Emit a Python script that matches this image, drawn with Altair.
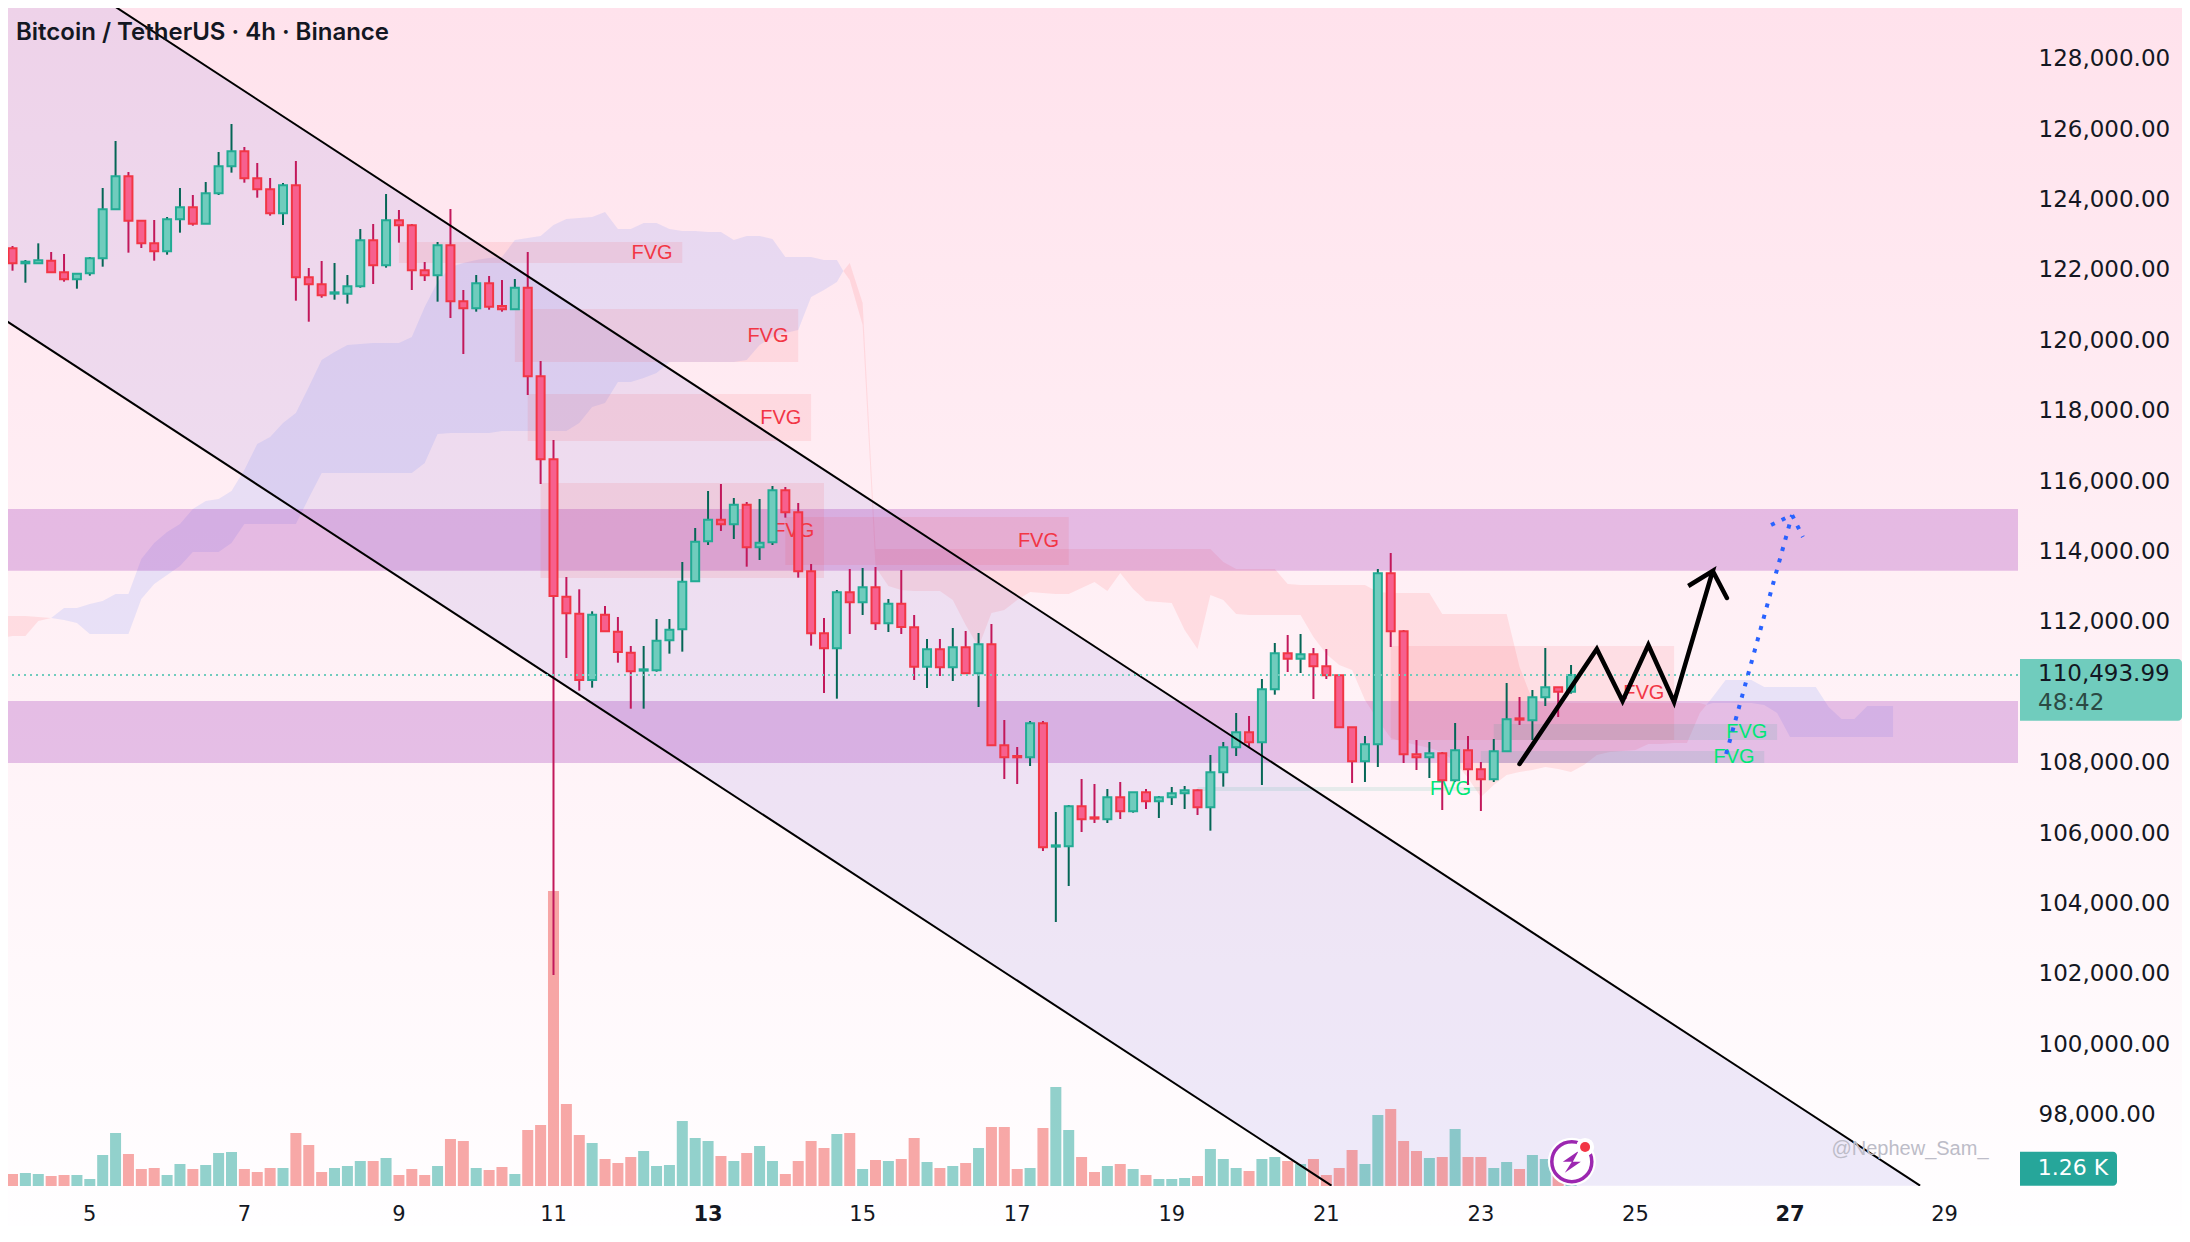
import altair as alt
import pandas as pd

body_top = [
122613,122613,122234,122272,122262,121931,121893,122329,123721,124658,
124658,123399,122755,123437,123778,123778,124175,124942,125369,125369,
124602,124289,124403,124403,121789,121590,121363,121533,122840,122840,
123408,123408,123266,121988,122698,122698,121107,121618,121618,120975,
121495,121495,118976,116618,112717,112234,112206,112206,111723,111126,
110653,111467,111780,113143,114280,114905,114905,115331,115331,114251,
115738,115738,115113,113437,111675,112840,112840,112982,112982,112518,
112518,111846,111221,111221,111278,111278,111363,111363,108494,108191,
109119,109119,105653,106761,106761,106448,107016,107016,107158,107158,
107016,107130,107215,107215,107726,108436,108863,108863,110084,111107,
111107,111079,111079,110738,110482,109005,108522,113380,113380,111732,
108238,108266,108266,108351,108351,107811,108323,109232,109260,109857,
110141,110141,110494]
body_bottom = [
122215,122187,122187,122187,121931,121732,121732,121903,122329,123721,
123399,122755,122528,122528,123437,123314,123314,124175,124942,124602,
124289,123607,123607,121789,121590,121278,121325,121325,121533,122130,
122130,123266,121988,121846,121846,121107,120908,120908,120956,120880,
120880,118976,116618,112736,112244,110350,110350,111732,111145,110596,
110615,110624,111477,111789,113153,114289,114772,114772,114119,114119,
114261,115113,113437,111675,111249,111249,112556,112556,111960,111960,
111855,110728,110728,110710,110710,110539,110539,108494,108153,108153,
108153,105596,105615,105624,106391,106410,106391,106619,106619,106903,
106903,107016,107130,106732,106732,107726,108436,108579,108579,110084,
110955,110955,110738,110482,109005,108039,108039,108522,111732,108238,
108152,108152,107499,107499,107811,107527,107527,108323,109222,109204,
109857,110018,110018]
wick_high = [
123844,122679,122281,122755,122509,122452,121903,122367,124327,125662,
124781,123399,123418,123503,124327,124128,124497,125350,126145,125492,
125037,124611,124469,125094,122054,122253,122196,121855,123162,123304,
124156,123702,123304,122225,122793,123730,121429,121855,121827,121713,
121742,122509,119412,117168,113276,112926,112301,112452,112140,111316,
111316,112083,112083,113702,114668,115719,115918,115520,115407,115492,
115861,115833,115378,113645,112111,112907,113503,113532,113560,112651,
113475,112196,111515,111515,111827,111742,111685,111941,109213,108446,
109185,109185,106600,106798,107537,107395,107253,107452,107158,107253,
107054,107310,107338,107244,108219,108588,109412,109327,110378,111401,
111628,111656,111259,111230,110482,109005,108758,113503,113957,111770,
108645,108588,108304,109128,108758,108020,108673,110264,109866,110065,
111259,110141,110776]
wick_low = [
121429,121978,121637,122187,121931,121666,121467,121836,122092,123721,
122490,122622,122262,122433,123058,123257,123314,124128,124763,124478,
124052,123541,123276,121126,120529,121211,121154,121041,121495,121600,
122064,122774,121429,121685,121098,120634,119611,120814,120870,120814,
120880,118446,115918,101970,110975,110047,110132,111732,110842,109535,
109535,110586,111098,111155,113153,114185,114583,114356,113569,113759,
114185,114962,113257,111325,109980,109819,111657,112196,111770,111713,
111657,110350,110122,110463,110321,110520,109583,108494,107537,107395,
107906,105492,103474,104497,106031,106287,106287,106401,106581,106685,
106429,106798,106685,106514,106069,107319,108190,108436,107366,109933,
110577,110548,109810,110378,109005,107423,107452,107878,111287,107991,
107792,107565,106656,107461,107366,106628,107452,108323,109071,108645,
109611,109298,109961]
is_up = [
1,0,1,1,0,0,1,1,1,1,
0,0,0,1,1,0,1,1,1,0,
0,0,1,0,0,0,1,1,1,0,
1,0,0,0,1,0,0,1,0,0,
1,0,0,0,0,0,1,0,0,0,
1,1,1,1,1,1,0,1,0,1,
1,0,0,0,0,1,0,1,0,1,
0,0,1,0,1,0,1,0,0,0,
1,0,1,1,0,0,1,0,1,0,
1,1,1,0,1,1,1,0,1,1,
0,1,0,0,0,0,1,1,0,0,
0,1,0,1,0,0,1,1,0,1,
1,0,1]
volume_k = [
10.2,1.8,1.95,1.8,1.5,1.65,1.65,1.05,4.65,7.95,
4.8,2.55,2.7,1.65,3.3,2.55,3.15,4.95,5.1,2.55,
2.1,2.7,2.7,7.95,6.15,2.1,2.7,3.0,3.75,3.75,
4.2,1.65,2.55,1.65,3.0,7.05,6.75,2.7,2.4,2.85,
1.8,8.4,9.15,44.25,12.3,7.65,6.45,4.05,3.45,4.35,
5.25,3.0,3.15,9.75,7.2,6.75,4.5,3.75,4.95,6.0,
3.75,1.8,3.75,6.75,5.7,7.8,7.95,2.55,3.9,3.75,
4.05,7.2,3.6,2.7,3.0,3.45,5.7,8.85,8.85,2.55,
2.7,8.7,14.85,8.4,4.35,2.1,3.0,3.3,2.55,1.65,
1.05,1.05,1.2,1.5,5.55,4.05,2.7,2.25,4.05,4.35,
3.75,3.3,4.05,1.65,2.7,5.4,3.3,10.65,11.55,6.75,
5.25,4.2,4.35,8.55,4.35,4.35,2.7,3.6,2.55,4.65,
4.05,3.0,1.26]
first_bar = -7

cloud_a_idx = [-7, -6, -5, -4, -3]
cloud_a_top = [112167, 112167, 112167, 112139, 112111]
cloud_a_bot = [111542, 111599, 111599, 112025, 112111]

cloud_b_idx = list(range(-3, 59)) + [58.5]
cloud_b_top = [
112111,112395,112395,112508,112594,112792,112792,113787,114241,114554,
114781,115207,115434,115491,115719,116315,117054,117253,117650,117934,
118673,119440,119667,119866,119894,119923,119923,119923,120094,120946,
121656,122082,122196,122281,122338,122366,122849,122906,122963,123275,
123446,123474,123503,123645,123162,123162,123332,123332,123162,123105,
123105,123076,123076,122849,122963,122963,122878,122366,122366,122366,
122281,122281,121969]
cloud_b_bot = [
112111,112054,111969,111656,111656,111656,111656,112650,113077,113332,
113588,113986,113986,113986,114241,114781,114781,114781,114781,114781,
115520,116230,116230,116230,116230,116230,116230,116230,116230,116514,
117338,117366,117366,117366,117366,117423,117423,117423,117423,117423,
117423,117650,118105,118219,118815,118815,118929,119071,119383,119383,
119383,119383,119383,119383,119440,119866,120094,120207,120292,121230,
121429,121656,121969]

cloud_c_idx = [58.5] + list(range(59, 126)) + [125.5]
cloud_c_top = [
121969,122196,121059,114071,114071,114071,114071,114071,114071,114071,
114071,114071,114071,114071,114071,114071,114071,114071,114071,114071,
114071,114071,114071,114071,114071,114071,114071,114071,114071,114071,
113702,113503,113503,113503,113503,113077,113048,113048,113048,113048,
113048,113048,112849,112821,112821,112821,112821,112224,112224,112224,
112224,112224,112224,110719,109781,109696,109696,109696,109696,109696,
109696,109696,109696,109696,109696,109696,109696,109696,109639]
cloud_c_bot = [
121969,121713,120434,113559,113020,112906,112878,112878,112878,112622,
111912,111287,112253,112338,112622,112849,112821,112792,112792,112963,
113133,112878,113389,112934,112594,112565,112537,111770,111230,112764,
112622,112224,112196,112196,112196,112196,112196,111571,111088,110775,
110633,109781,109213,108702,108588,108503,108418,108304,108020,107565,
107025,107366,107650,107736,107792,107878,107821,107736,107935,108219,
108304,108333,108361,108531,108531,108560,108560,109412,109639]

cloud_d_idx = [125.5] + list(range(126, 141))
cloud_d_top = [109639,109866,110349,110349,110349,110150,110150,110150,110150,110150,109582,109241,109241,109611,109611,109611]
cloud_d_bot = [109639,109696,109696,109696,109696,109639,109412,108730,108730,108730,108730,108730,108730,108730,108730,108730]

zone_tops = [115207, 109753]
zone_bottoms = [113454, 107991]

fvg_left = [24, 33, 34, 35, 54, 101, 109, 108, 86]
fvg_right = [46, 55, 56, 57, 76, 123, 131, 130, 108]
fvg_top = [122792, 120889, 118474, 115946, 114980, 111315, 109099, 108333, 107309]
fvg_bot = [122196, 119383, 117139, 113247, 113616, 108645, 108645, 107991, 107196]
fvg_kind = ["bear", "bear", "bear", "bear", "bear", "bear", "bull", "bull", "bull"]

channel_x0 = [1.18, -6.97]
channel_x1 = [142.1, 96.4]
channel_y0 = [129667, 120670]
channel_y1 = [95983, 95983]
channel_fill_x = [-7, 96.4, 142.1]
channel_fill_top = [131622, 106909, 95983]
channel_fill_bot = [120670, 95983, 95983]

path_x = [111, 117, 119, 121, 123, 126, 124.1, 126, 127.1]
path_y = [107963, 111230, 109753, 111344, 109724, 113446, 113020, 113446, 112679]
dot_x = [127.04, 132.16]
dot_y = [108247, 115037]
dot_head_x = [130.53, 132.16, 133.0]
dot_head_y = [114753, 115037, 114412]

price_ticks = [98000, 100000, 102000, 104000, 106000, 108000, 112000, 114000, 116000,
               118000, 120000, 122000, 124000, 126000, 128000]
day_labels = ["5", "7", "9", "11", "13", "15", "17", "19", "21", "23", "25", "27", "29"]
day_positions = [0, 12, 24, 36, 48, 60, 72, 84, 96, 108, 120, 132, 144]
day_bold = [0, 0, 0, 0, 1, 0, 0, 0, 0, 0, 0, 1, 0]
last_price = 110493.99

PLOT_W, PLOT_H = 2010, 1178
xs = alt.Scale(domain=[-6.351, 149.7], nice=False, zero=False, padding=0)
ys = alt.Scale(domain=[95974, 129441], nice=False, zero=False)
vs = alt.Scale(domain=[0, 176.7], nice=False, zero=False)
FONT = "DejaVu Sans"


def X(f="x"):
    return alt.X(f + ":Q", scale=xs, axis=None)


def Y(f="y"):
    return alt.Y(f + ":Q", scale=ys, axis=None)


bars = pd.DataFrame({
    "x": [first_bar + i for i in range(len(body_top))],
    "top": body_top, "bot": body_bottom, "hi": wick_high, "lo": wick_low,
    "dir": ["up" if u else "down" for u in is_up], "vol": volume_k,
})
dirs = ["up", "down"]

bg = alt.Chart(alt.Data(values=[{}])).mark_rect(
    clip=False,
    color=alt.Gradient(gradient="linear", x1=0, x2=0, y1=0, y2=1, stops=[
        alt.GradientStop(offset=0, color="#FFE2EC"),
        alt.GradientStop(offset=1, color="#FFFEFF"),
    ]),
).encode(x=alt.value(0), x2=alt.value(2174), y=alt.value(0), y2=alt.value(1218))


def cloud(idx, top, bot, color, op):
    d = pd.DataFrame({"x": idx, "y": top, "y2": bot})
    return alt.Chart(d).mark_area(color=color, opacity=op, clip=True, interpolate="linear").encode(
        x=X(), y=Y(), y2="y2:Q")


clouds = [
    cloud(cloud_a_idx, cloud_a_top, cloud_a_bot, "#FF5252", 0.12),
    cloud(cloud_b_idx, cloud_b_top, cloud_b_bot, "#2962FF", 0.11),
    cloud(cloud_c_idx, cloud_c_top, cloud_c_bot, "#FF5252", 0.12),
    cloud(cloud_d_idx, cloud_d_top, cloud_d_bot, "#2962FF", 0.11),
]

vol = alt.Chart(bars).mark_bar(size=11, orient="vertical", clip=True, opacity=0.5).encode(
    x=X(),
    y=alt.Y("vol:Q", scale=vs, axis=None),
    color=alt.Color("dir:N", scale=alt.Scale(domain=dirs, range=["#26A69A", "#EF5350"]), legend=None),
)

chan_fill = alt.Chart(pd.DataFrame({"x": channel_fill_x, "y": channel_fill_top, "y2": channel_fill_bot})).mark_area(
    color="#7A6BDA", opacity=0.125, clip=True).encode(x=X(), y=Y(), y2="y2:Q")

zones = alt.Chart(pd.DataFrame({"y": zone_tops, "y2": zone_bottoms, "x": [-8, -8], "x2": [149.7, 149.7]})).mark_rect(
    color="#9C27B0", opacity=0.26, clip=True).encode(x=X(), x2="x2:Q", y=Y(), y2="y2:Q")

fvg = pd.DataFrame({"x": fvg_left, "x2": fvg_right, "y": fvg_top, "y2": fvg_bot, "kind": fvg_kind})
fvg["tx"] = fvg["x2"] - 2.35
fvg["ty"] = (fvg["y"] + fvg["y2"]) / 2
fvg_col = alt.Scale(domain=["bear", "bull"], range=["#F23645", "#089981"])
fvg_txt = alt.Scale(domain=["bear", "bull"], range=["#F23645", "#00E676"])
boxes = alt.Chart(fvg).mark_rect(opacity=0.1, clip=True).encode(
    x=X(), x2="x2:Q", y=Y(), y2="y2:Q", color=alt.Color("kind:N", scale=fvg_col, legend=None))
labels = alt.Chart(fvg).mark_text(text="FVG", font="Liberation Sans", fontSize=20, align="center", baseline="middle").encode(
    x=X("tx"), y=Y("ty"), color=alt.Color("kind:N", scale=fvg_txt, legend=None))

chan_lines = alt.Chart(pd.DataFrame({"x": channel_x0, "x2": channel_x1, "y": channel_y0, "y2": channel_y1})).mark_rule(
    color="#000000", strokeWidth=2, clip=True).encode(x=X(), x2="x2:Q", y=Y(), y2="y2:Q")

wicks = alt.Chart(bars).mark_rule(strokeWidth=2, clip=True).encode(
    x=X(),
    y=alt.Y("hi:Q", scale=ys, title=None, axis=alt.Axis(
        values=price_ticks, format=",.2f", orient="right", ticks=False, domain=False, grid=False, zindex=1,
        labelFont=FONT, labelFontSize=23, labelColor="#131722", labelPadding=20, labelFlush=False,
    )),
    y2="lo:Q",
    color=alt.Color("dir:N", scale=alt.Scale(domain=dirs, range=["#056656", "#C2185B"]), legend=None),
)
bodies = alt.Chart(bars).mark_bar(size=8, strokeWidth=2, orient="vertical", clip=True).encode(
    x=X(), y=Y("top"), y2="bot:Q",
    fill=alt.Fill("dir:N", scale=alt.Scale(domain=dirs, range=["#70CCBD", "#F7608E"]), legend=None),
    stroke=alt.Stroke("dir:N", scale=alt.Scale(domain=dirs, range=["#22AB94", "#F23645"]), legend=None),
)

price_line = alt.Chart(pd.DataFrame({"y": [last_price]})).mark_rule(
    color="#70CCBD", strokeWidth=2, strokeDash=[2, 4], clip=True).encode(y=Y())

zigzag = alt.Chart(pd.DataFrame({"x": path_x, "y": path_y, "i": list(range(len(path_x)))})).mark_line(
    color="#000000", strokeWidth=4.5, strokeCap="round", strokeJoin="miter", clip=True).encode(x=X(), y=Y(), order="i:Q")

dot1 = alt.Chart(pd.DataFrame({"x": dot_x, "y": dot_y, "i": [0, 1]})).mark_line(
    color="#2962FF", strokeWidth=4, strokeDash=[4, 7.7], clip=True).encode(x=X(), y=Y(), order="i:Q")
dot2 = alt.Chart(pd.DataFrame({"x": dot_head_x, "y": dot_head_y, "i": [0, 1, 2]})).mark_line(
    color="#2962FF", strokeWidth=4, strokeDash=[4, 7.7], clip=True).encode(x=X(), y=Y(), order="i:Q")


def pt(x, y, **kw):
    return alt.Chart(pd.DataFrame({"x": [x], "y": [y]})).mark_point(clip=False, **kw).encode(x=X(), y=Y())


BOLT = "M 0.35 -0.55 L -0.45 0 L 0 0 L -0.35 0.55 L 0.45 0 L 0.05 0 Z"
icon = [
    pt(115.06, 96665, shape="circle", size=2300, filled=True, color="#FFFFFF", opacity=1),
    pt(115.06, 96665, shape="circle", size=1600, filled=False, color="#9C27B0", strokeWidth=3.5, opacity=1),
    pt(115.06, 96665, shape=BOLT, size=1600, filled=True, color="#9C27B0", opacity=1),
    pt(116.09, 97082, shape="circle", size=330, filled=True, color="#FFFFFF", opacity=1),
    pt(116.09, 97082, shape="circle", size=100, filled=True, color="#F23645", opacity=1),
]


def tag(x0, x1, y0, y1, color):
    return alt.Chart(alt.Data(values=[{}])).mark_rect(
        color=color, clip=False, cornerRadiusTopRight=4, cornerRadiusBottomRight=4).encode(
        x=alt.value(x0), x2=alt.value(x1), y=alt.value(y0), y2=alt.value(y1))


def txt(s, x, y, size, color, align="left", weight=400, font=FONT):
    return alt.Chart(alt.Data(values=[{}])).mark_text(
        text=s, font=font, fontSize=size, color=color, align=align, baseline="middle", fontWeight=weight, clip=False,
    ).encode(x=alt.value(x), y=alt.value(y))


annot = [
    tag(2012, 2174, 651, 712.7, "#70CCBD"),
    tag(2012, 2109, 1143.7, 1177.7, "#26A69A"),
    txt("110,493.99", 2030, 666, 23, "#131722"),
    txt("48:42", 2030, 695, 23, "#2B4A44"),
    txt("1.26 K", 2065, 1160, 22, "#FFFFFF", align="center"),
    txt("@Nephew_Sam_", 1902, 1141, 20, "#BDBCC8", align="center", font="Liberation Sans"),
    txt("Bitcoin / TetherUS · 4h · Binance", 8, 25, 24, "#131722", weight=600, font="Inter"),
]

days = pd.DataFrame({"x": day_positions, "label": day_labels, "bold": day_bold})
day_layers = [
    alt.Chart(days[days["bold"] == b]).mark_text(
        font=FONT, fontSize=21, color="#131722", align="center", baseline="middle", fontWeight=w, clip=False,
    ).encode(x=X(), y=alt.value(1207), text="label:N")
    for b, w in [(0, 400), (1, 700)]
]

chart = alt.layer(
    bg, *clouds, chan_fill, vol, zones, boxes, labels, wicks, bodies, chan_lines, price_line, zigzag, dot1, dot2,
    *icon, *annot, *day_layers,
).resolve_scale(y="independent", color="independent", fill="independent", stroke="independent").properties(
    width=PLOT_W, height=PLOT_H,
    padding={"left": 0, "top": 0, "right": 164, "bottom": 40},
    autosize=alt.AutoSizeParams(type="none"),
    background="#FFFFFF",
).configure_view(stroke=None)

chart.save("out.html", embed_options={"renderer": "svg", "actions": False})
